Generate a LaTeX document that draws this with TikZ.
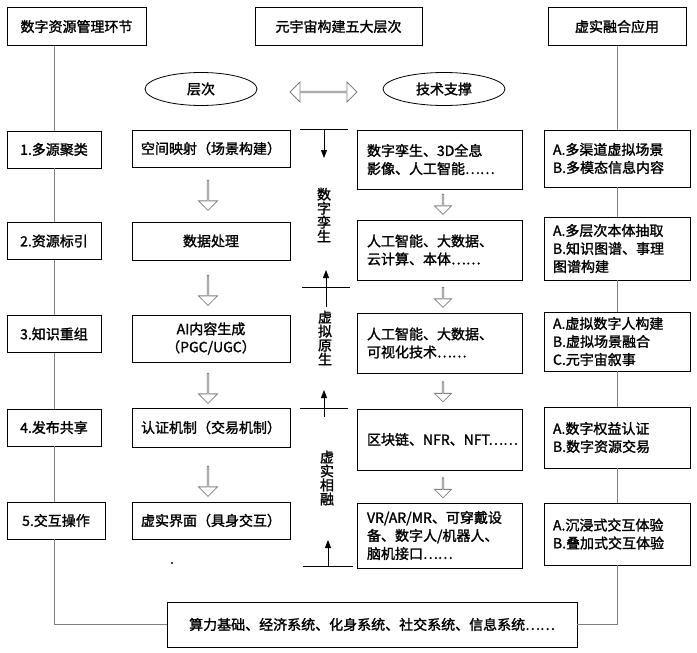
\documentclass[tikz,border=0pt]{standalone}
\usepackage{fontspec}
\setmainfont{Noto Sans CJK SC}[BoldFont={Noto Sans CJK SC}, BoldFeatures={FakeBold=1.5}]
\usetikzlibrary{shapes.geometric,shapes.arrows,arrows.meta}
\definecolor{Black}{RGB}{0,0,0}
\definecolor{White}{RGB}{255,255,255}
\definecolor{Gray}{RGB}{128,128,128}

\begin{document}
\begin{tikzpicture}[x=1pt, y=-1pt,
		box/.style={draw=Black, fill=White, line width=0.8pt, inner sep=0pt, align=center, font=\fontsize{14}{18}\selectfont\bfseries},
		headbox/.style={box, minimum height=38pt},
		stepbox/.style={box, minimum width=94pt, minimum height=37pt},
		layerbox/.style={box, minimum width=158pt},
		techbox/.style={box, align=left, text width=145pt, inner xsep=10pt},
		appbox/.style={box, align=left, text width=128pt, inner xsep=9pt},
		oval/.style={ellipse, draw=Black, line width=0.8pt, minimum height=33pt, inner sep=0pt, font=\fontsize{14}{18}\selectfont\bfseries},
		bigdown/.style={single arrow, draw=Gray, fill=White, line width=0.8pt, shape border rotate=270, minimum height=30pt, minimum width=19pt, single arrow head extend=4.5pt, inner sep=0pt},
		smalldown/.style={bigdown, minimum height=20pt, minimum width=17pt, single arrow head extend=4pt},
		swaparrow/.style={double arrow, draw=Gray, fill=White, line width=0.8pt, minimum height=67pt, minimum width=20pt, double arrow head extend=5pt, inner sep=0pt},
		link/.style={draw=Gray, line width=0.8pt},
		tick/.style={draw=Black, line width=0.8pt},
		tip/.style={draw=Black, line width=0.8pt, -{Triangle[length=8pt,width=6pt]}},
		vlabel/.style={align=center, inner sep=0pt, font=\fontsize{14}{14}\selectfont\bfseries}]
		
		\useasboundingbox (0,0) rectangle (697,653);
		
		% Headers
		\node[headbox, minimum width=139pt] (mgmt) at (76.5,26.5) {数字资源管理环节};
		\node[headbox, minimum width=167pt] (levels) at (338.5,26.5) {元宇宙构建五大层次};
		\node[headbox, minimum width=138pt] (apps) at (617,26.5) {虚实融合应用};
		
		% Ellipses
		\node[oval, minimum width=112pt] (layer) at (201,89) {层次};
		\node[oval, minimum width=122pt] (tech) at (444,89) {技术支撑};
		\node[swaparrow] (swap) at (323.5,92) {};
		
		% Steps
		\node[stepbox] (s1) at (54,149.5) {1.多源聚类};
		\node[stepbox] (s2) at (54,241) {2.资源标引};
		\node[stepbox] (s3) at (54,334) {3.知识重组};
		\node[stepbox] (s4) at (54,427.5) {4.发布共享};
		\node[stepbox, minimum width=98pt] (s5) at (56,520.5) {5.交互操作};
		
		% Layers
		\node[layerbox, minimum height=37pt] (l1) at (211,148.5) {空间映射（场景构建）};
		\node[layerbox, minimum height=38pt] (l2) at (211,241) {数据处理};
		\node[layerbox, minimum height=47pt] (l3) at (211,338.5) {AI内容生成\\（PGC/UGC）};
		\node[layerbox, minimum height=39pt] (l4) at (211,427.5) {认证机制（交易机制）};
		\node[layerbox, minimum height=37pt] (l5) at (211,520.5) {虚实界面（具身交互）};
		\node[inner sep=0pt, font=\fontsize{14}{14}\selectfont\bfseries] (dot) at (172,563) {.};
		
		% Techniques
		\node[techbox, minimum height=59pt] (t1) at (439.5,159.5) {数字孪生、3D全息\\影像、人工智能……};
		\node[techbox, minimum height=60pt] (t2) at (439.5,250) {人工智能、大数据、\\云计算、本体……};
		\node[techbox, minimum height=60pt] (t3) at (439.5,343) {人工智能、大数据、\\可视化技术……};
		\node[techbox, minimum height=61pt] (t4) at (439.5,439.5) {区块链、NFR、NFT……};
		\node[techbox, minimum height=65pt] (t5) at (439.5,535.5) {VR/AR/MR、可穿戴设\\备、数字人/机器人、\\脑机接口……};
		
		% Applications
		\node[appbox, minimum height=57pt] (r1) at (617,158.5) {A.多渠道虚拟场景\\B.多模态信息内容};
		\node[appbox, minimum height=63pt] (r2) at (617,248.5) {A.多层次本体抽取\\B.知识图谱、事理\\图谱构建};
		\node[appbox, minimum height=59pt] (r3) at (617,341.5) {A.虚拟数字人构建\\B.虚拟场景融合\\C.元宇宙叙事};
		\node[appbox, minimum height=61pt] (r4) at (617,437.5) {A.数字权益认证\\B.数字资源交易};
		\node[appbox, minimum height=62pt] (r5) at (617,534) {A.沉浸式交互体验\\B.叠加式交互体验};
		
		% Base
		\node[box, minimum width=410pt, minimum height=45pt] (base) at (372,624.5) {算力基础、经济系统、化身系统、社交系统、信息系统……};
		
		% Flows
		\node[bigdown] (d1) at (208,195) {};
		\node[bigdown] (d2) at (208,290) {};
		\node[bigdown] (d3) at (208,388) {};
		\node[bigdown] (d4) at (208,481) {};
		
		\node[smalldown] (e1) at (443,204) {};
		\node[smalldown] (e2) at (443,297) {};
		\node[smalldown] (e3) at (443,391.5) {};
		\node[smalldown] (e4) at (443,487.5) {};
		
		% Links
		\draw[link] (mgmt.south -| s1.north) -- (s1.north);
		\foreach \a/\b in {s1/s2, s2/s3, s3/s4}
			\draw[link] (\a.south) -- (\b.north);
		\draw[link] (s4.south) -- (s4.south |- s5.north);
		\draw[link] (s5.south -| s4.south) |- (base.west);
		
		\draw[link] (apps.south) -- (r1.north);
		\foreach \a/\b in {r1/r2, r2/r3, r3/r4, r4/r5}
			\draw[link] (\a.south) -- (\b.north);
		\draw[link] (r5.south) |- (base.east);
		
		% Phases
		\coordinate (p1) at (324,129);
		\coordinate (p2) at (326,287);
		\coordinate (p3) at (324,408);
		\coordinate (p4) at (328,566);
		
		\draw[tick] (p1) ++(-24,0) -- ++(48,0);
		\draw[tick] (p2) ++(-24,0) -- ++(48,0);
		\draw[tick] (p3) ++(-24,0) -- ++(48,0);
		\draw[tick] (p4) ++(-25,0) -- ++(50,0);
		
		\draw[tip] (p1) -- ++(0,29);
		\draw[tip] (p2) ++(0,20) -- ++(0,-37);
		\draw[tip] (p3) ++(0,9) -- ++(0,-27);
		\draw[tip] (p4) -- ++(0,-26);
		
		\node[vlabel] (twin) at (324,215) {数\\字\\孪\\生};
		\node[vlabel] (native) at (325,338) {虚\\拟\\原\\生};
		\node[vlabel] (fusion) at (327,478) {虚\\实\\相\\融};
		
	\end{tikzpicture}
\end{document}
